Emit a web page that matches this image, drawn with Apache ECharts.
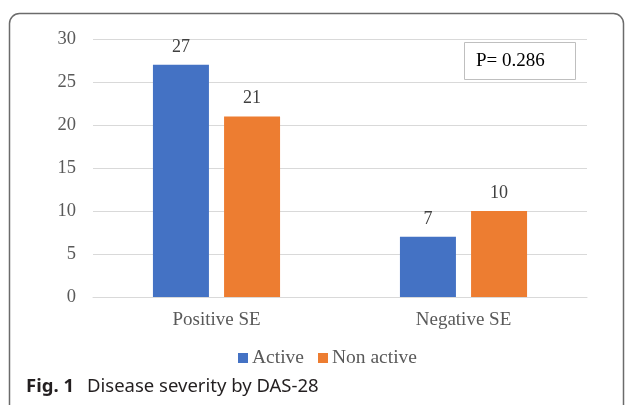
<!DOCTYPE html>
<html><head><meta charset="utf-8">
<script src="https://cdn.jsdelivr.net/npm/echarts@6/dist/echarts.min.js"></script>
<style>html,body{margin:0;padding:0;background:#fff}#c{width:627px;height:405px}</style>
</head><body><div id="c"></div>
<script>
const categories = ['Positive SE', 'Negative SE'];
const activeValues = [27, 7];
const nonActiveValues = [21, 10];
const yTicks = [0, 5, 10, 15, 20, 25, 30];
const seriesNames = ['Active', 'Non active'];
const pText = 'P= 0.286';

const chart = echarts.init(document.getElementById('c'), null, {renderer: 'canvas'});
const serif = '"Liberation Serif", "Times New Roman", serif';
const lbl = {show: true, position: 'top', distance: 9, fontFamily: serif, fontSize: 18, color: '#404040'};
chart.setOption({
  animation: false,
  grid: {left: 93, right: 40, top: 39, bottom: 108, containLabel: false},
  xAxis: {
    type: 'category', data: categories,
    axisLine: {lineStyle: {color: '#D9D9D9', width: 1}},
    axisTick: {show: false},
    axisLabel: {fontFamily: serif, fontSize: 19, color: '#595959', margin: 14}
  },
  yAxis: {
    type: 'value', min: yTicks[0], max: yTicks[yTicks.length - 1], interval: 5,
    axisLine: {show: false}, axisTick: {show: false},
    splitLine: {lineStyle: {color: '#D9D9D9', width: 1}},
    axisLabel: {fontFamily: serif, fontSize: 18.5, color: '#595959', margin: 17}
  },
  legend: {
    data: seriesNames, top: 343, left: 233,
    itemWidth: 10, itemHeight: 10, itemGap: 14,
    icon: 'rect',
    textStyle: {fontFamily: serif, fontSize: 19.5, color: '#595959', padding: [0, 0, 0, -1]}
  },
  series: [
    {name: seriesNames[0], type: 'bar', data: activeValues, barWidth: 56, barGap: '27%',
     itemStyle: {color: '#4472C4'}, label: lbl},
    {name: seriesNames[1], type: 'bar', data: nonActiveValues, barWidth: 56,
     itemStyle: {color: '#ED7D31'}, label: lbl}
  ],
  graphic: [
    {type: 'rect', shape: {x: 9.5, y: 13.5, width: 614, height: 420, r: 10}, silent: true,
     style: {fill: 'none', stroke: '#6b6b6b', lineWidth: 1.5}},
    {type: 'rect', shape: {x: 464.5, y: 42.5, width: 111, height: 37}, z: 10,
     style: {fill: '#fff', stroke: '#BFBFBF', lineWidth: 1}},
    {type: 'text', x: 476, y: 61, z: 11,
     style: {text: pText, fontFamily: serif, fontSize: 19, fill: '#000', verticalAlign: 'middle'}},
    {type: 'text', x: 26, y: 387,
     style: {text: 'Fig. 1', fontFamily: '"Noto Sans", sans-serif', fontWeight: 'bold', fontSize: 18.5, fill: '#231f20', verticalAlign: 'middle'}},
    {type: 'text', x: 87, y: 387,
     style: {text: 'Disease severity by DAS-28', fontFamily: '"Noto Sans", sans-serif', fontSize: 18.5, fill: '#231f20', verticalAlign: 'middle'}}
  ]
});
</script></body></html>
